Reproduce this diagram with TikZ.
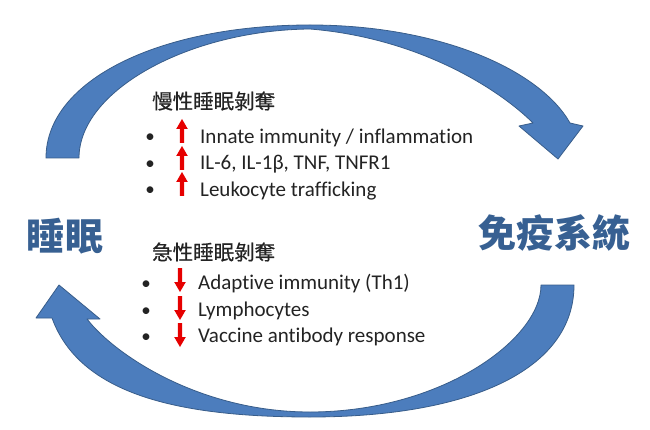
\documentclass[tikz,border=0pt]{standalone}
\usepackage{fontspec}
\setmainfont{Carlito}[Ligatures={NoCommon}]
\newfontfamily\cjk{Noto Sans CJK TC}
\newfontfamily\cjkhead{Noto Sans CJK TC}[FakeBold=0.6]
\definecolor{arrowfill}{RGB}{76,125,189}
\definecolor{arrowedge}{RGB}{56,93,138}
\definecolor{labelblue}{RGB}{55,96,146}
\definecolor{txtgray}{RGB}{35,35,35}
\definecolor{redarr}{RGB}{230,0,0}
\tikzset{
  bigarrow/.style={fill=arrowfill, draw=arrowedge, line width=0.8pt, line join=round},
  biglabel/.style={font=\cjk\bfseries\fontsize{38}{40}\selectfont, text=labelblue, inner sep=0pt},
  heading/.style={font=\cjkhead\fontsize{20.5}{22}\selectfont, text=txtgray, inner sep=0pt, anchor=west},
  item/.style={font=\fontsize{21}{23}\selectfont, text=txtgray, inner sep=0pt, anchor=base west},
  bulletmark/.style={font=\fontsize{19}{21}\selectfont, text=txtgray, inner sep=0pt, anchor=base},
  uparr/.pic={\fill[redarr] (-2.2,0) -- (-2.2,-14) -- (-5.8,-14) -- (0,-24) -- (5.8,-14) -- (2.2,-14) -- (2.2,0) -- cycle;},
  downarr/.pic={\fill[redarr] (-2.2,0) -- (-2.2,14) -- (-5.8,14) -- (0,24) -- (5.8,14) -- (2.2,14) -- (2.2,0) -- cycle;}
}
\begin{document}
\begin{tikzpicture}[x=1pt,y=-1pt]
\useasboundingbox[fill=white] (0,0) rectangle (650,430);

% top curved arrow (sleep -> immune system)
\filldraw[bigarrow] (46,158) .. controls (46,80) and (160,25) .. (310,25)
  .. controls (440,25) and (540,70) .. (570,123)
  -- (583,126) -- (558,159) -- (519,126) -- (533,123)
  .. controls (500,90) and (420,38) .. (310,29)
  .. controls (190,30) and (79,90) .. (79,158) -- cycle;

% bottom curved arrow (immune system -> sleep)
\filldraw[bigarrow] (574,285) .. controls (574,370) and (470,417) .. (310,417)
  .. controls (180,417) and (80,395) .. (52,318)
  -- (36,318) -- (59,285) -- (100,319) -- (87,319)
  .. controls (115,355) and (200,412) .. (310,412)
  .. controls (440,412) and (541,340) .. (541,285) -- cycle;

% big labels
\node[biglabel] (sleep) at (65,236) {睡眠};
\node[biglabel] (immune) at (554,233) {免疫系統};

% chronic sleep deprivation
\node[heading] (chronic) at (152,101) {慢性睡眠剝奪};
\node[bulletmark] (cb1) at (150,143) {•};
\node[bulletmark] (cb2) at (150,170) {•};
\node[bulletmark] (cb3) at (150,196) {•};
\pic at (182,143) {uparr};
\pic at (182,170) {uparr};
\pic at (182,196) {uparr};
\node[item] (c1) at (200,144) {Innate immunity / inflammation};
\node[item] (c2) at (200,170) {IL-6, IL-1β, TNF, TNFR1};
\node[item] (c3) at (200,197) {Leukocyte trafficking};

% acute sleep deprivation
\node[heading] (acute) at (152,252) {急性睡眠剝奪};
\node[bulletmark] (ab1) at (146,289) {•};
\node[bulletmark] (ab2) at (146,316) {•};
\node[bulletmark] (ab3) at (146,342) {•};
\pic at (180,268) {downarr};
\pic at (180,296) {downarr};
\pic at (180,323) {downarr};
\node[item] (a1) at (198,289) {Adaptive immunity (Th1)};
\node[item] (a2) at (198,316) {Lymphocytes};
\node[item] (a3) at (198,342) {Vaccine antibody response};
\end{tikzpicture}
\end{document}
